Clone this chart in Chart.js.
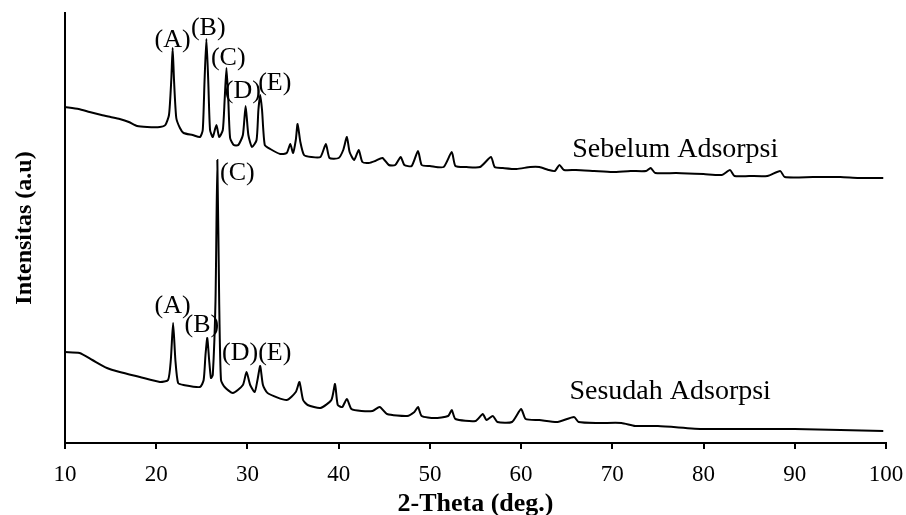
<!DOCTYPE html>
<html>
<head>
<meta charset="utf-8">
<script src="https://cdn.jsdelivr.net/npm/chart.js@4"></script>
<style>
  body { margin: 0; background: #fff; }
  #wrap { width: 906px; height: 515px; }
</style>
</head>
<body>
<div id="wrap"><canvas id="xrdChart" width="906" height="515"></canvas></div>
<script>
// DATA - 2-Theta (deg.) and intensity (a.u.)
const thetaBefore = [10.0, 11.5, 12.7, 14.0, 15.0, 16.0, 17.0, 17.9, 19.0, 20.4, 21.0, 21.4, 21.65, 21.8, 21.95, 22.2, 22.6, 23.0, 24.0, 24.8,
    25.1, 25.3, 25.5, 25.7, 25.9, 26.2, 26.6, 26.9, 27.3, 27.5, 27.7, 27.9, 28.1, 28.5, 29.0, 29.5, 29.8, 30.1, 30.5, 31.0,
    31.2, 31.4, 31.6, 31.9, 32.5, 33.6, 34.3, 34.7, 35.0, 35.3, 35.5, 35.8, 36.2, 37.0, 38.0, 38.6, 39.0, 40.0, 40.5, 40.9,
    41.2, 41.7, 42.2, 42.6, 43.3, 44.0, 44.8, 45.5, 46.2, 46.8, 47.2, 48.0, 48.7, 49.1, 50.0, 51.5, 52.4, 52.8, 54.0, 55.5,
    56.7, 57.1, 58.0, 59.5, 61.0, 62.0, 63.0, 63.7, 64.2, 64.7, 66.0, 68.0, 70.0, 72.0, 73.7, 74.2, 74.7, 77.0, 80.0, 82.0,
    82.9, 83.4, 85.0, 87.0, 88.4, 88.9, 92.0, 95.0, 97.0, 99.7];
const intensityBefore = [336, 334, 331, 328, 326, 324, 321, 317, 316, 316, 318, 328, 363, 395, 363, 325, 315, 310, 308, 306,
    313, 363, 404, 363, 313, 306, 318, 306, 313, 343, 375, 343, 305, 298, 298, 308, 337, 308, 296, 303,
    333, 348, 333, 298, 294, 289, 290, 299, 290, 303, 319, 301, 288, 286, 286, 299, 285, 285, 293, 306,
    291, 283, 293, 281, 280, 282, 285, 278, 278, 286, 278, 277, 292, 278, 277, 276, 291, 277, 276, 276,
    286, 276, 275, 274, 276, 276, 273, 272, 278, 273, 273, 272, 271, 272, 272, 275, 270, 270, 269, 268,
    273, 267, 267, 267, 272, 266, 266, 266, 265, 265];

const thetaAfter = [10.0, 11.6, 13.0, 14.6, 16.0, 18.2, 20.4, 21.3, 21.6, 21.85, 22.1, 22.4, 23.0, 24.8, 25.2, 25.4, 25.6, 25.8, 26.0, 26.2,
    26.5, 26.7, 26.9, 27.1, 27.5, 28.4, 29.5, 29.9, 30.3, 30.8, 31.1, 31.4, 31.7, 32.2, 34.3, 35.3, 35.7, 36.1, 36.6, 38.0,
    39.2, 39.6, 39.9, 40.4, 40.9, 41.4, 42.5, 43.7, 44.5, 45.3, 47.5, 48.3, 48.7, 49.1, 50.5, 52.0, 52.4, 52.8, 55.0, 55.8,
    56.2, 56.9, 57.4, 59.0, 60.0, 60.5, 62.0, 64.0, 65.8, 66.3, 68.5, 71.0, 72.5, 75.0, 80.0, 85.0, 90.0, 95.0, 99.7];
const intensityAfter = [91, 90, 83, 75, 71, 66, 61, 63, 83, 120, 83, 60, 58, 56, 63, 88, 105, 83, 65, 68,
    143, 283, 143, 63, 56, 50, 58, 71, 58, 51, 63, 77, 58, 50, 43, 51, 61, 43, 38, 35,
    43, 59, 38, 36, 44, 34, 32, 32, 36, 29, 27, 31, 36, 27, 25, 27, 33, 24, 22, 29,
    23, 27, 21, 21, 34, 24, 23, 21, 26, 21, 20, 20, 17, 17, 14, 14, 14, 13, 12];

const seriesNames = ['Sebelum Adsorpsi', 'Sesudah Adsorpsi'];
const xTicks = [10, 20, 30, 40, 50, 60, 70, 80, 90, 100];

// peak labels (text, 2-theta, intensity of text baseline)
const peakText = ['(A)', '(B)', '(C)', '(D)', '(E)'];
const peakThetaBefore = [21.8, 25.7, 27.9, 29.5, 33.0];
const peakYBefore = [396, 408, 378, 345, 353];
const peakThetaAfter = [21.8, 25.0, 28.9, 29.2, 33.0];
const peakYAfter = [130, 111, 263, 83, 83];
const nameTheta = [65.6, 65.3];
const nameY = [286, 44];

const serif = "'Times New Roman', 'Liberation Serif', serif";

function toPoints(xs, ys) {
    return xs.map((t, i) => ({ x: t, y: ys[i] }));
}

// TEXT LABELS
const labelPlugin = {
    id: 'xrdLabels',
    afterDatasetsDraw(chart) {
        const ctx = chart.ctx;
        const xs = chart.scales.x, ys = chart.scales.y;
        ctx.save();
        ctx.fillStyle = '#000';
        ctx.textBaseline = 'alphabetic';
        ctx.font = '26px ' + serif;
        ctx.textAlign = 'center';
        peakText.forEach((t, i) => {
            ctx.fillText(t, xs.getPixelForValue(peakThetaBefore[i]), ys.getPixelForValue(peakYBefore[i]));
            ctx.fillText(t, xs.getPixelForValue(peakThetaAfter[i]), ys.getPixelForValue(peakYAfter[i]));
        });
        ctx.font = '28px ' + serif;
        ctx.textAlign = 'left';
        seriesNames.forEach((n, i) => {
            ctx.fillText(n, xs.getPixelForValue(nameTheta[i]), ys.getPixelForValue(nameY[i]));
        });
        ctx.restore();
    }
};

window.onload = function () {

    new Chart(document.getElementById('xrdChart'), {
        type: 'line',
        data: {
            datasets: [{
                label: seriesNames[0],
                data: toPoints(thetaBefore, intensityBefore)
            }, {
                label: seriesNames[1],
                data: toPoints(thetaAfter, intensityAfter)
            }]
        },
        options: {
            responsive: false,
            animation: false,
            devicePixelRatio: 1,
            layout: { padding: { top: 13, right: 20, left: 0, bottom: 0 } },
            elements: {
                line: { borderColor: '#000', borderWidth: 2, tension: 0.2 },
                point: { radius: 0 }
            },
            plugins: {
                legend: { display: false },
                tooltip: { enabled: false }
            },
            scales: {
                x: {
                    type: 'linear',
                    min: 10,
                    max: 100,
                    afterBuildTicks: (s) => { s.ticks = xTicks.map(v => ({ value: v })); },
                    afterFit: (s) => { s.height = 72; s.paddingLeft = 0; s.paddingRight = 0; },
                    grid: { drawOnChartArea: false, drawTicks: true, tickLength: 6, color: '#000', lineWidth: 2 },
                    border: { color: '#000', width: 2 },
                    ticks: { color: '#000', font: { family: serif, size: 23 }, padding: 12, maxRotation: 0 },
                    title: {
                        display: true,
                        text: '2-Theta (deg.)',
                        color: '#000',
                        font: { family: serif, size: 26, weight: 'bold', lineHeight: 0.85 },
                        padding: 0
                    }
                },
                y: {
                    min: 0,
                    max: 430,
                    afterFit: (s) => { s.width = 65; },
                    grid: { drawOnChartArea: false, drawTicks: false },
                    border: { color: '#000', width: 2 },
                    ticks: { display: false },
                    title: {
                        display: true,
                        text: 'Intensitas (a.u)',
                        color: '#000',
                        font: { family: serif, size: 24, weight: 'bold', lineHeight: 1.2 },
                        padding: { top: 10, bottom: 0 }
                    }
                }
            }
        },
        plugins: [labelPlugin]
    });

};
</script>
</body>
</html>
